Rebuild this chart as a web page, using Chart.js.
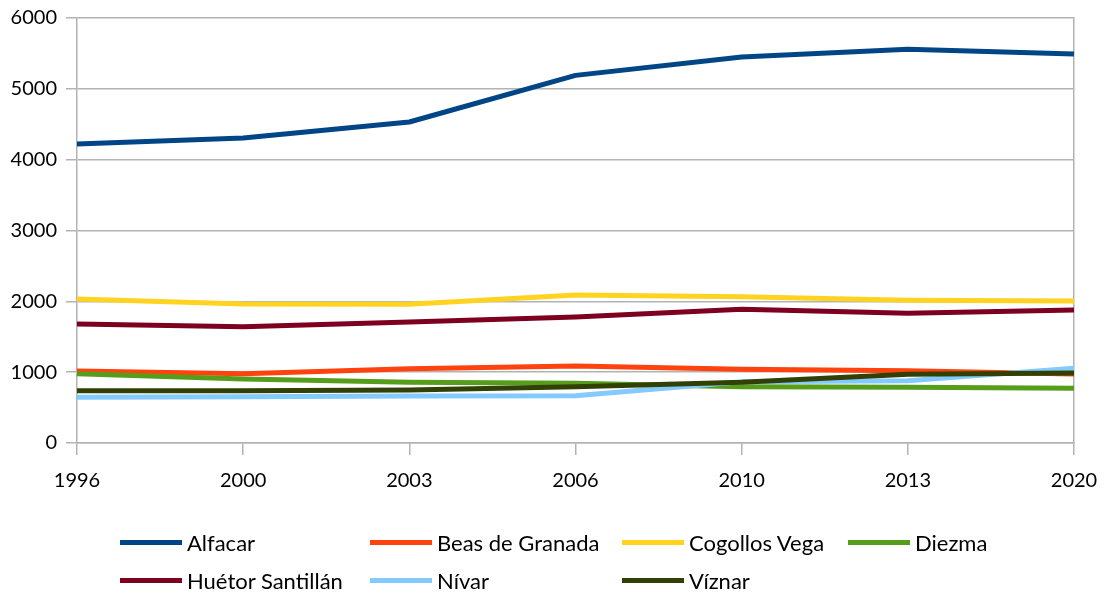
<!DOCTYPE html>
<html><head><meta charset="utf-8">
<script src="https://cdn.jsdelivr.net/npm/chart.js@4/dist/chart.umd.min.js"></script>
<style>
html,body{margin:0;padding:0;background:#fff;}
#wrap{position:relative;width:1104px;height:593px;}
#legend{position:absolute;left:0;top:0;width:1104px;height:593px;pointer-events:none;font-family:Lato,"Open Sans",sans-serif;font-size:22px;color:#000;}
.li{position:absolute;display:flex;align-items:center;white-space:nowrap;}
.sw{width:62px;height:5px;margin-right:5px;}
</style></head>
<body><div id="wrap"><canvas id="c" width="1104" height="593"></canvas><div id="legend"></div></div>
<script>
const years = ["1996","2000","2003","2006","2010","2013","2020"];
const seriesNames = ["Alfacar","Beas de Granada","Cogollos Vega","Diezma","Huétor Santillán","Nívar","Víznar"];
const alfacar = [4221,4306,4532,5190,5450,5560,5492];
const beasDeGranada = [1016,978,1049,1087,1040,1020,975];
const cogollosVega = [2033,1962,1960,2090,2066,2015,2005];
const diezma = [978,904,857,843,795,786,772];
const huetorSantillan = [1680,1642,1708,1779,1888,1831,1878];
const nivar = [645,654,664,668,866,880,1055];
const viznar = [738,738,748,795,857,972,988];
const yTicks = [0,1000,2000,3000,4000,5000,6000];
const colors = ["#004586","#ff420e","#ffd320","#579d1c","#7e0021","#83caff","#314004"];
const values = [alfacar,beasDeGranada,cogollosVega,diezma,huetorSantillan,nivar,viznar];
const FONT = "Lato";
const datasets = seriesNames.map((n,i)=>({label:n,data:values[i],borderColor:colors[i],backgroundColor:colors[i],borderWidth:5,pointRadius:0,tension:0,fill:false,order:seriesNames.length-i,borderJoinStyle:'round'}));
new Chart(document.getElementById('c'),{
 type:'line',
 data:{labels:years,datasets},
 options:{
  responsive:false,animation:false,
  layout:{padding:{left:0,top:18,right:30,bottom:0}},
  plugins:{legend:{display:false},tooltip:{enabled:false}},
  scales:{
   x:{type:'category',offset:false,
      grid:{drawOnChartArea:false,drawTicks:true,tickLength:12,color:'#b3b3b3',lineWidth:1.5},
      border:{color:'#b3b3b3',width:1.5},
      ticks:{color:'#000',font:{family:FONT,size:20},padding:14,maxRotation:0,autoSkip:false},
      afterFit:s=>{s.height=150;s.paddingLeft=0;s.paddingRight=0;}},
   y:{min:0,max:6000,afterBuildTicks:s=>{s.ticks=yTicks.map(v=>({value:v}));},
      grid:{color:'#b3b3b3',lineWidth:1.5,tickLength:11},
      border:{color:'#b3b3b3',width:1.5},
      ticks:{color:'#000',font:{family:FONT,size:20},padding:9,callback:v=>String(v)},
      afterFit:s=>{s.width=77;s.paddingTop=0;s.paddingBottom=0;}},
   y2:{position:'right',min:0,max:6000,
      grid:{drawOnChartArea:false,drawTicks:false},
      border:{color:'#b3b3b3',width:1.5},
      ticks:{display:false},afterFit:s=>{s.width=0;s.paddingTop=0;s.paddingBottom=0;}}
  }
 }
});
const leg=document.getElementById('legend');
const colX=[120,370,622,848];
seriesNames.forEach((n,i)=>{
 const row=Math.floor(i/4), col=i%4;
 const d=document.createElement('div');d.className='li';
 d.style.left=colX[col]+'px';d.style.top=(row?580:542)-15+'px';d.style.height='30px';
 d.innerHTML='<span class="sw" style="background:'+colors[i]+'"></span><span>'+n+'</span>';
 leg.appendChild(d);
});
</script></body></html>
